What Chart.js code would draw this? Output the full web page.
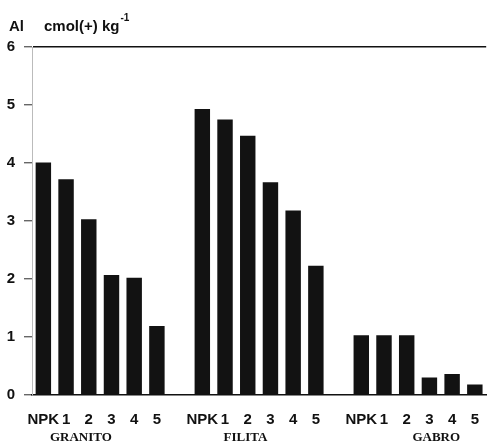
<!DOCTYPE html>
<html>
<head>
<meta charset="utf-8">
<script src="https://cdn.jsdelivr.net/npm/chart.js@4.4.0/dist/chart.umd.min.js"></script>
<style>
  html, body { margin: 0; padding: 0; background: #fff; }
  #wrap { width: 487px; height: 441px; position: relative; }
</style>
</head>
<body>
<div id="wrap"><canvas id="alChart"></canvas></div>
<script>
const treatments = ['NPK', '1', '2', '3', '4', '5'];
const groups = ['GRANITO', 'FILITA', 'GABRO'];
const granito = [4.01, 3.72, 3.03, 2.07, 2.02, 1.19];
const filita = [4.93, 4.75, 4.47, 3.67, 3.18, 2.23];
const gabro = [1.03, 1.03, 1.03, 0.30, 0.36, 0.18];
const yTicks = [0, 1, 2, 3, 4, 5, 6];

// one empty slot between rock groups
const labels = [];
const values = [];
[granito, filita, gabro].forEach((serie, g) => {
    if (g > 0) { labels.push(''); values.push(null); }
    treatments.forEach((t, i) => { labels.push(t); values.push(serie[i]); });
});

// where each group name sits, as a fractional category index
const groupAnchors = [1.65, 8.9, 17.3];

const sansBold = { family: "'Liberation Sans', Arial, sans-serif", size: 15, weight: 'bold' };

const extraText = {
    id: 'extraText',
    afterDraw(chart) {
        const c = chart.ctx;
        const x = chart.scales.x;
        c.save();
        c.fillStyle = '#111';
        c.textBaseline = 'alphabetic';
        c.font = "bold 15px 'Liberation Sans', Arial, sans-serif";
        c.fillText('Al', 9, 31);
        const unit = 'cmol(+) kg';
        c.fillText(unit, 44, 31);
        const w = c.measureText(unit).width;
        c.font = "bold 10px 'Liberation Sans', Arial, sans-serif";
        c.fillText('-1', 44 + w + 1, 21);
        c.font = "bold 13px 'Liberation Serif', 'Times New Roman', serif";
        c.textAlign = 'center';
        groups.forEach((g, i) => {
            c.fillText(g, x.getPixelForValue(groupAnchors[i]), 441);
        });
        c.restore();
    }
};

new Chart(document.getElementById('alChart'), {
    type: 'bar',
    data: {
        labels: labels,
        datasets: [{
            data: values,
            backgroundColor: '#121212',
            borderWidth: 0,
            barPercentage: 0.68,
            categoryPercentage: 1
        }]
    },
    options: {
        responsive: true,
        maintainAspectRatio: false,
        animation: false,
        layout: { padding: { top: 47, right: 0, left: 0, bottom: 0 } },
        plugins: {
            legend: { display: false },
            tooltip: { enabled: false }
        },
        scales: {
            x: {
                grid: { display: false },
                border: { display: true, color: '#111', width: 1.5 },
                ticks: {
                    color: '#111',
                    font: sansBold,
                    maxRotation: 0,
                    autoSkip: false,
                    padding: 8
                },
                afterFit: (scale) => { scale.height = 46; }
            },
            y: {
                min: 0,
                max: 6,
                afterBuildTicks: (scale) => { scale.ticks = yTicks.map(v => ({ value: v })); },
                grid: {
                    color: (ctx) => ctx.tick && ctx.tick.value === 6 ? '#111' : 'rgba(0,0,0,0)',
                    tickColor: '#666',
                    tickLength: 8,
                    lineWidth: 1.4
                },
                border: { display: true, color: '#bbb', width: 1 },
                ticks: {
                    color: '#111',
                    font: sansBold,
                    padding: 9
                },
                afterFit: (scale) => { scale.width = 32; }
            }
        }
    },
    plugins: [extraText]
});
</script>
</body>
</html>
